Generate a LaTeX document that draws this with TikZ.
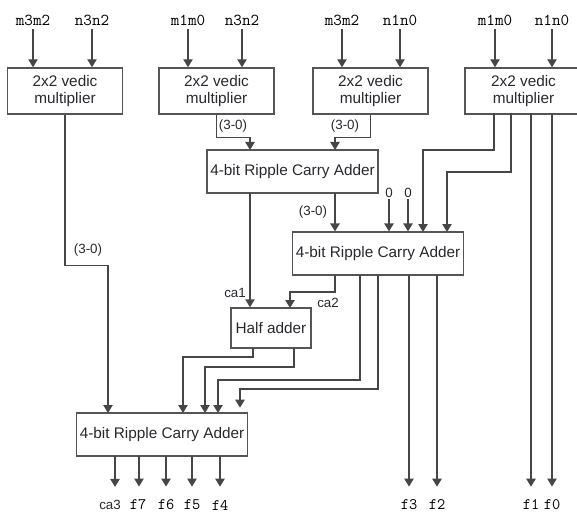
\documentclass[tikz,border=0pt]{standalone}
\usepackage{fontspec}
\setmainfont{Liberation Sans}
\usetikzlibrary{arrows.meta,positioning,calc}
\definecolor{wirecol}{RGB}{70,70,70}
\definecolor{boxcol}{RGB}{85,85,85}
\definecolor{txtcol}{RGB}{40,40,45}

\begin{document}
\begin{tikzpicture}[
    x=0.75pt, y=-0.75pt,
    >={Triangle[length=6pt,width=7pt]},
    block/.style={rectangle, draw=boxcol, line width=1.1pt, inner sep=0pt, align=center, text=txtcol, font=\fontsize{11.5}{12.5}\selectfont},
    vedic/.style={block, minimum width=86pt, minimum height=34.5pt},
    adder/.style={block, minimum width=128pt, minimum height=32pt},
    wire/.style={draw=wirecol, line width=1.1pt},
    arrow/.style={wire, ->},
    pin/.style={font=\ttfamily\fontsize{12.5}{12.5}\selectfont, inner sep=1pt, outer sep=2pt},
    outpin/.style={font=\ttfamily\fontsize{12}{12}\selectfont, inner sep=1pt, outer sep=9pt},
    tag/.style={font=\fontsize{10}{10}\selectfont, text=txtcol, inner sep=1pt},
]
\useasboundingbox (0,0) rectangle (577,513);

\node[vedic] (vm1) at (65,91) {2x2 vedic\\multiplier};
\node[vedic] (vm2) at (216.5,91) {2x2 vedic\\multiplier};
\node[vedic] (vm3) at (370.5,91) {2x2 vedic\\multiplier};
\node[vedic, minimum width=87.75pt] (vm4) at (523.5,91) {2x2 vedic\\multiplier};
\node[adder] (rca1) at (292.5,171.5) {4-bit Ripple Carry Adder};
\node[adder] (rca2) at (378,253.5) {4-bit Ripple Carry Adder};
\node[adder] (rca3) at (162,434.5) {4-bit Ripple Carry Adder};
\node[block, minimum width=60pt, minimum height=30pt] (ha) at (271,328) {Half adder};

\node[pin] (a1) at (33,20) {m3m2};
\node[pin] (b1) at (92,20) {n3n2};
\node[pin] (a2) at (188,20) {m1m0};
\node[pin] (b2) at (242,20) {n3n2};
\node[pin] (a3) at (342,20) {m3m2};
\node[pin] (b3) at (400,20) {n1n0};
\node[pin] (a4) at (495,20) {m1m0};
\node[pin] (b4) at (552,20) {n1n0};
\foreach \p/\b in {a1/vm1, b1/vm1, a2/vm2, b2/vm2, a3/vm3, b3/vm3, a4/vm4, b4/vm4}
    \draw[arrow] (\p) -- (\p |- \b.north);

\coordinate (r1i1) at (250,150);
\coordinate (r1i2) at (335,150);
\coordinate (r1o1) at (250,193);
\coordinate (r1o2) at (335,193);
\coordinate (r2i3) at (423,232);
\coordinate (r2i4) at (447,232);
\coordinate (r2o1) at (335,275);
\coordinate (r2o2) at (360,275);
\coordinate (r2o3) at (378,275);
\coordinate (r2o4) at (409,275);
\coordinate (r2o5) at (437,275);
\coordinate (hai2) at (290,308);
\coordinate (hao1) at (253,348);
\coordinate (hao2) at (294,348);
\coordinate (r3i1) at (108,413);
\coordinate (r3i2) at (183,413);
\coordinate (r3i3) at (205,413);
\coordinate (r3i4) at (218,413);
\coordinate (r3i5) at (240,413);
\coordinate (v4o1) at (494,113);
\coordinate (v4o2) at (511,113);
\coordinate (v4o3) at (531,113);
\coordinate (v4o4) at (552,113);

\draw[arrow] (vm1.south) -- ++(0,151) -| (r3i1);
\node[tag] (t1) at (88,250) {(3-0)};
\draw[arrow] (vm2.south) -- ++(0,23) -| (r1i1);
\node[tag] (t2) at (233,126) {(3-0)};
\draw[arrow] (vm3.south) -- ++(0,23) -| (r1i2);
\node[tag] (t3) at (345,126) {(3-0)};

\draw[arrow] (r1o1) -- (r1o1 |- ha.north);
\node[tag] (ca1) at (235,293) {ca1};
\draw[arrow] (r1o2) -- (r1o2 |- rca2.north);
\node[tag] (t4) at (313,212) {(3-0)};

\node[tag] (z1) at (389,193) {0};
\node[tag] (z2) at (408,193) {0};
\draw[arrow] (z1) -- (z1 |- rca2.north);
\draw[arrow] (z2) -- (z2 |- rca2.north);
\draw[arrow] (v4o1) -- ++(0,37) -| (r2i3);
\draw[arrow] (v4o2) -- ++(0,59) -| (r2i4);

\draw[arrow] (r2o1) -- ++(0,17) -| (hai2);
\node[tag] (ca2) at (328,303) {ca2};
\draw[arrow] (r2o2) -- ++(0,105) -| (r3i4);
\draw[arrow, shorten >=4pt] (r2o3) -- ++(0,114) -| (r3i5);
\draw[arrow] (hao1) -- ++(0,9) -| (r3i2);
\draw[arrow] (hao2) -- ++(0,19) -| (r3i3);

\node[outpin, font=\fontsize{10}{10}\selectfont, text=txtcol] (ca3) at (110,505) {ca3};
\node[outpin] (f7) at (138,505) {f7};
\node[outpin] (f6) at (166,505) {f6};
\node[outpin] (f5) at (192,505) {f5};
\node[outpin] (f4) at (220,505) {f4};
\node[outpin] (f3) at (409,505) {f3};
\node[outpin] (f2) at (437,505) {f2};
\node[outpin] (f1) at (531,505) {f1};
\node[outpin] (f0) at (552,505) {f0};
\foreach \x/\f in {115/ca3, 139/f7, 166/f6, 192/f5, 220/f4}
    \draw[arrow] (\x,456) -- (\x,0 |- \f.north);
\draw[arrow] (r2o4) -- (r2o4 |- f3.north);
\draw[arrow] (r2o5) -- (r2o5 |- f2.north);
\draw[arrow] (v4o3) -- (v4o3 |- f1.north);
\draw[arrow] (v4o4) -- (v4o4 |- f0.north);
\end{tikzpicture}
\end{document}
